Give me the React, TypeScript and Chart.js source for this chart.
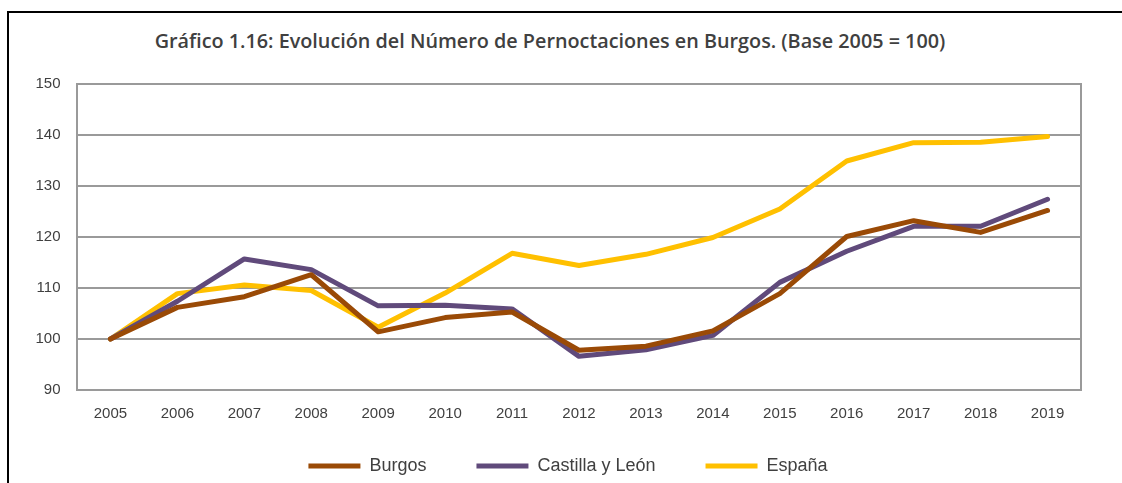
import { useEffect, useRef } from 'react';
import { Chart, registerables } from 'chart.js';

Chart.register(...registerables);

const years = ['2005', '2006', '2007', '2008', '2009', '2010', '2011', '2012', '2013', '2014', '2015', '2016', '2017', '2018', '2019'];
const burgos = [100, 106.2, 108.3, 112.6, 101.4, 104.2, 105.3, 97.8, 98.6, 101.6, 108.9, 120.1, 123.2, 120.9, 125.2];
const castillaLeon = [100, 107.4, 115.7, 113.6, 106.5, 106.6, 105.9, 96.6, 97.9, 100.7, 111.1, 117.2, 122.1, 122.1, 127.4];
const espana = [100, 108.9, 110.6, 109.5, 102.3, 109.0, 116.8, 114.4, 116.6, 119.9, 125.5, 134.9, 138.5, 138.6, 139.7];
const yMin = 90;
const yMax = 150;
const yStep = 10;
const seriesNames = ['Burgos', 'Castilla y León', 'España'];
const seriesColors = ['#9A4A06', '#604A7B', '#FFC000'];

const TITLE = 'Gráfico 1.16: Evolución del Número de Pernoctaciones en Burgos. (Base 2005 = 100)';
const FONT = '"Liberation Sans", Arial, sans-serif';
const GRID = '#9a9a9a';
const TEXT = '#404040';
const LEGEND_DX = 12;
const LEGEND_CENTER_Y = 466;

const areaBorder = {
  id: 'areaBorder',
  beforeDatasetsDraw(chart: any) {
    const { ctx, chartArea } = chart;
    ctx.save();
    ctx.strokeStyle = GRID;
    ctx.lineWidth = 2;
    ctx.strokeRect(chartArea.left, chartArea.top, chartArea.right - chartArea.left, chartArea.bottom - chartArea.top);
    ctx.restore();
  },
};

const legendPlacement = {
  id: 'legendPlacement',
  afterLayout(chart: any) {
    const lg = chart.legend;
    if (!lg) return;
    const pad = lg.options.labels.padding;
    const itemH = Math.max(lg.options.labels.boxHeight, lg.options.labels.font.size);
    const dy = LEGEND_CENTER_Y - (lg.top + pad + itemH / 2);
    lg.left += LEGEND_DX;
    lg.right += LEGEND_DX;
    lg.top += dy;
    lg.bottom += dy;
  },
};

export default function App() {
  const ref = useRef<HTMLCanvasElement>(null);

  useEffect(() => {
    const values = [burgos, castillaLeon, espana];
    const chart = new Chart(ref.current!, {
      type: 'line',
      data: {
        labels: years,
        datasets: values.map((v, i) => ({
          label: seriesNames[i],
          data: v,
          borderColor: seriesColors[i],
          backgroundColor: seriesColors[i],
          borderWidth: 5,
          pointRadius: 0,
          tension: 0,
          borderCapStyle: 'round' as const,
          borderJoinStyle: 'round' as const,
        })),
      },
      options: {
        animation: false,
        responsive: false,
        layout: { padding: { top: 84, left: 31, right: 41, bottom: 0 } },
        plugins: {
          title: { display: false },
          tooltip: { enabled: false },
          legend: {
            position: 'bottom',
            labels: {
              boxWidth: 52,
              boxHeight: 5,
              padding: 50,
              color: TEXT,
              font: { family: FONT, size: 18 },
              generateLabels: (c: any) =>
                c.data.datasets.map((d: any, i: number) => ({
                  text: d.label,
                  fillStyle: d.borderColor,
                  strokeStyle: d.borderColor,
                  lineWidth: 0,
                  hidden: false,
                  datasetIndex: i,
                  fontColor: TEXT,
                })),
            },
          },
        },
        scales: {
          x: {
            offset: true,
            grid: { display: false, drawTicks: false },
            border: { display: true, color: GRID, width: 2 },
            ticks: { color: TEXT, font: { family: FONT, size: 15 }, padding: 14.5, maxRotation: 0, autoSkip: false },
          },
          y: {
            min: yMin,
            max: yMax,
            grid: { color: GRID, lineWidth: 2, drawTicks: false },
            border: { display: true, color: GRID, width: 2 },
            ticks: { stepSize: yStep, color: TEXT, font: { family: FONT, size: 15 }, padding: 16.5 },
            afterFit: (s: any) => {
              s.width = 46;
            },
          },
        },
      },
      plugins: [areaBorder, legendPlacement],
    });
    return () => chart.destroy();
  }, []);

  return (
    <div style={{ position: 'fixed', left: 0, top: 0, width: 1122, height: 483, overflow: 'hidden', background: '#fff' }}>
      <div
        style={{
          position: 'absolute',
          left: 7,
          top: 11,
          width: 1400,
          height: 700,
          borderTop: '2px solid #000',
          borderLeft: '2px solid #000',
        }}
      />
      <div
        style={{
          position: 'absolute',
          left: 550,
          top: 26.5,
          transform: 'translateX(-50%)',
          whiteSpace: 'nowrap',
          fontFamily: '"Open Sans", "Liberation Sans", sans-serif',
          fontWeight: 600,
          fontSize: 19.8,
          lineHeight: '27px',
          color: TEXT,
        }}
      >
        {TITLE}
      </div>
      <canvas ref={ref} width={1122} height={515} style={{ position: 'absolute', left: 0, top: 0, width: 1122, height: 515 }} />
    </div>
  );
}
